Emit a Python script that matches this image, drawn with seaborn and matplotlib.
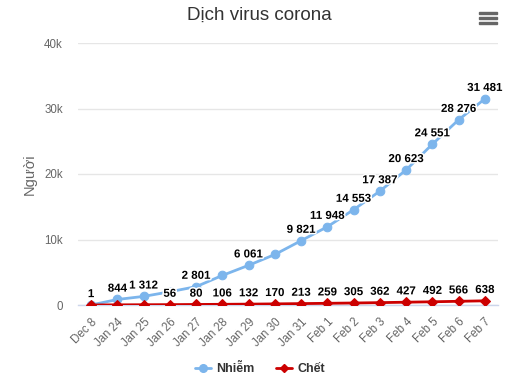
import matplotlib
matplotlib.use("Agg")
import matplotlib.pyplot as plt
import seaborn as sns
import pandas as pd
from matplotlib.lines import Line2D
from matplotlib.patches import Rectangle
import matplotlib.patheffects as pe

dates = ["Dec 8", "Jan 24", "Jan 25", "Jan 26", "Jan 27", "Jan 28", "Jan 29", "Jan 30",
         "Jan 31", "Feb 1", "Feb 2", "Feb 3", "Feb 4", "Feb 5", "Feb 6", "Feb 7"]
infected = [1, 844, 1312, 2019, 2801, 4515, 6061, 7711, 9821, 11948, 14553, 17387,
            20623, 24551, 28276, 31481]
deaths = [0, 25, 41, 56, 80, 106, 132, 170, 213, 259, 305, 362, 427, 492, 566, 638]
infected_labels = ["1", "844", "1 312", "", "2 801", "", "6 061", "", "9 821", "11 948",
                   "14 553", "17 387", "20 623", "24 551", "28 276", "31 481"]
death_labels = ["", "", "", "56", "80", "106", "132", "170", "213", "259", "305", "362",
                "427", "492", "566", "638"]
yticks = [0, 10000, 20000, 30000, 40000]
ytick_labels = ["0", "10k", "20k", "30k", "40k"]

sns.set_theme(style="white")
plt.rcParams['font.family'] = ['Liberation Sans', 'DejaVu Sans']

BLUE = "#7cb5ec"
RED = "#cc0000"

fig = plt.figure(figsize=(5.13, 3.85), dpi=100)
ax = fig.add_axes([78/513, 1-305/385, 420/513, 262/385])

x = list(range(len(dates)))
df = pd.DataFrame({"x": x, "infected": infected, "deaths": deaths})

sns.lineplot(data=df, x="x", y="infected", ax=ax, color=BLUE, lw=2, marker="o",
             markersize=6.2, markeredgecolor=BLUE, zorder=3)
sns.lineplot(data=df, x="x", y="deaths", ax=ax, color=RED, lw=2, marker="D",
             markersize=5, markeredgecolor=RED, zorder=4)

outline = [pe.withStroke(linewidth=2.2, foreground="white")]
for xi, v, lab in zip(x, infected, infected_labels):
    if lab:
        ax.annotate(lab, (xi, v), xytext=(0, 3.5), textcoords="offset points",
                    ha="center", va="bottom", fontsize=8.3, fontweight="bold",
                    color="black", path_effects=outline, zorder=6)
for xi, v, lab in zip(x, deaths, death_labels):
    if lab:
        ax.annotate(lab, (xi, v), xytext=(0, 3.5), textcoords="offset points",
                    ha="center", va="bottom", fontsize=8.3, fontweight="bold",
                    color="black", path_effects=outline, zorder=6)

ax.set_xlim(-0.5, len(dates) - 0.5)
ax.set_ylim(0, 40000)
ax.set_yticks(yticks)
ax.set_yticklabels(ytick_labels, fontsize=8.3, color="#666666")
ax.set_xticks(x)
ax.set_xticklabels(dates, rotation=45, ha="right", va="top", rotation_mode="anchor",
                   fontsize=8.3, color="#666666")
ax.set_xticks([i - 0.5 for i in range(len(dates) + 1)], minor=True)
ax.tick_params(axis="x", which="major", length=0, pad=8)
ax.tick_params(axis="x", which="minor", length=7, width=1, color="#ccd6eb")
ax.tick_params(axis="y", length=0, pad=11)
ax.yaxis.grid(True, color="#e6e6e6", lw=1)
ax.xaxis.grid(False)
for s in ["top", "right", "left"]:
    ax.spines[s].set_visible(False)
ax.spines["bottom"].set_color("#ccd6eb")
ax.spines["bottom"].set_linewidth(1)
ax.set_xlabel("")
ax.set_ylabel("Người", fontsize=10.5, color="#666666")
ax.yaxis.set_label_coords(-0.098, 0.5)

fig.text(259/513, 1-15/385, "Dịch virus corona", ha="center", va="center",
         fontsize=13.5, color="#333333")

# menu icon
for yy in [13, 18, 23]:
    fig.patches.append(Rectangle((479/513, 1-(yy+1.2)/385), 18/513, 2.6/385,
                                 transform=fig.transFigure, color="#666666"))

handles = [Line2D([], [], color=BLUE, lw=2, marker="o", markersize=5.5),
           Line2D([], [], color=RED, lw=2, marker="D", markersize=4.5)]
leg = fig.legend(handles, ["Nhiễm", "Chết"], loc="center", ncol=2,
                 bbox_to_anchor=(260/513, 1-369/385), frameon=False,
                 handlelength=1.25, handletextpad=0.45, columnspacing=1.7,
                 prop={"size": 9, "weight": "bold"})
for t in leg.get_texts():
    t.set_color("#333333")

fig.savefig("out.png", dpi=100)
